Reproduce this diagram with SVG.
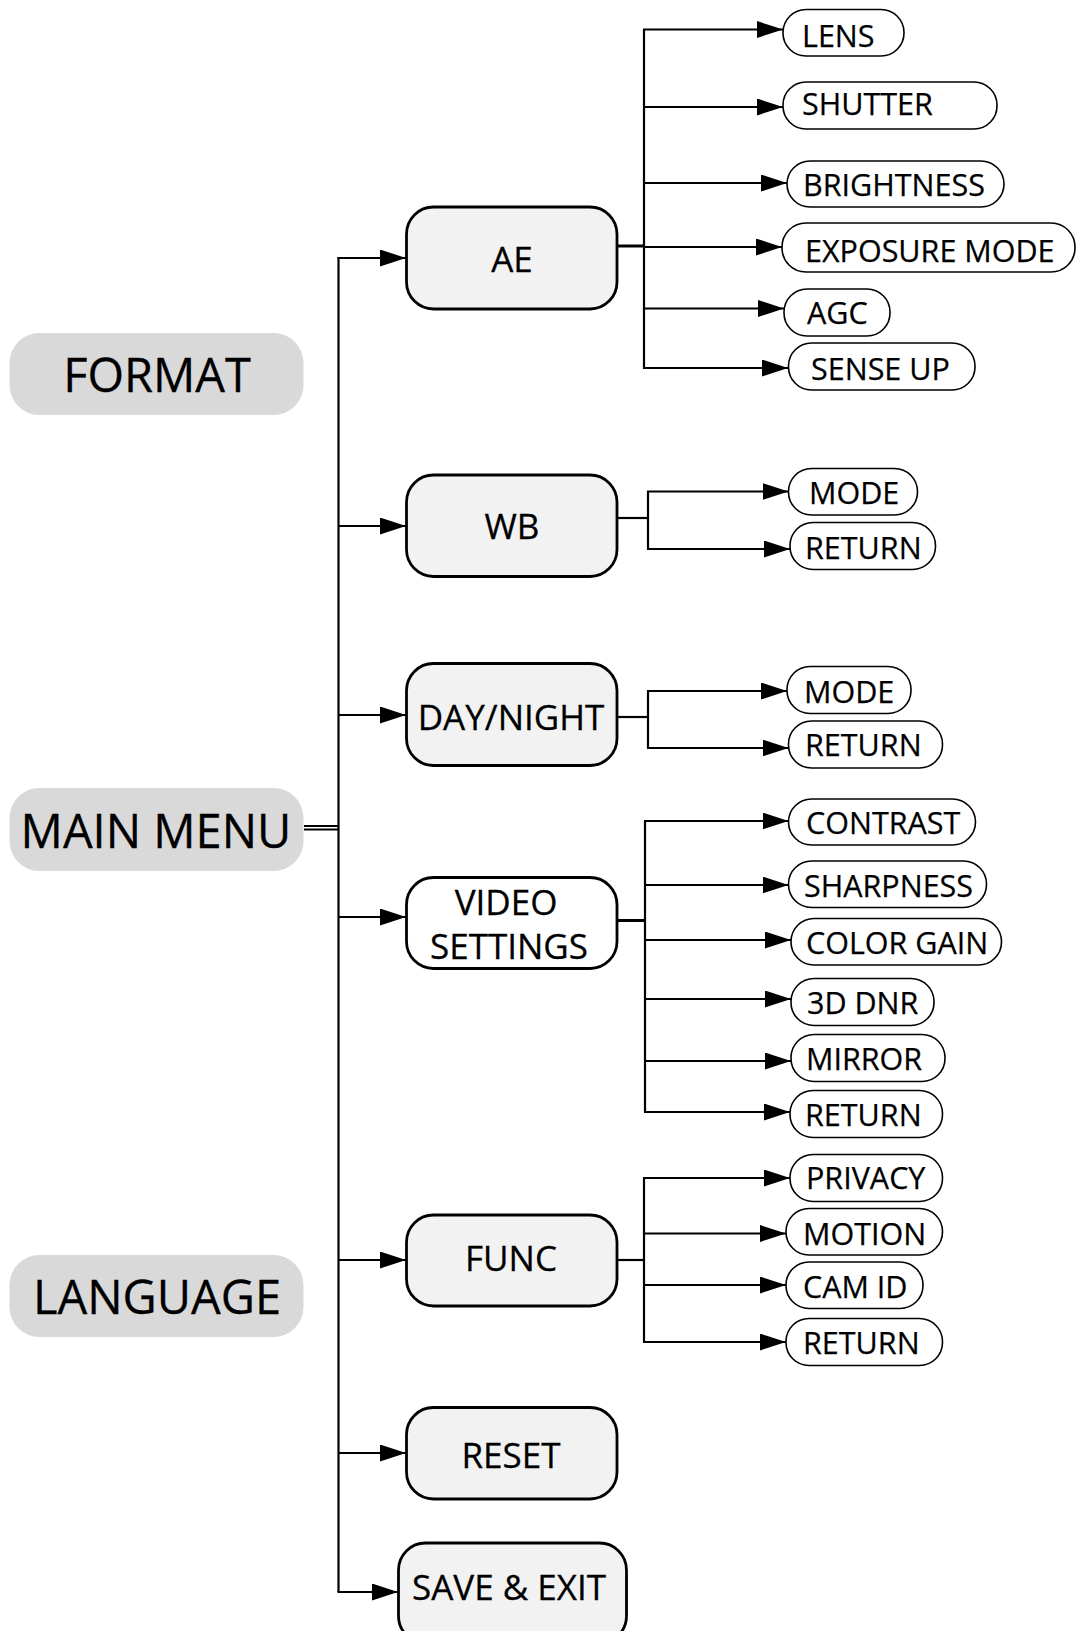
<svg xmlns="http://www.w3.org/2000/svg" width="1077" height="1631" viewBox="0 0 1077 1631">
<defs>
<marker id="ah" markerUnits="userSpaceOnUse" markerWidth="26" markerHeight="17" refX="26" refY="8.5" orient="auto">
<path d="M0,0 L26,8.5 L0,17 Z" fill="#000"/>
</marker>
<style>
.top{fill:#d9d9d9;stroke:none}
.mid{fill:#f2f2f2;stroke:#000;stroke-width:2.8}
.midw{fill:#fff;stroke:#000;stroke-width:2.8}
.leaf{fill:#fff;stroke:#000;stroke-width:1.6}
.tt{font-family:"Open Sans","Liberation Sans",sans-serif;font-size:47px;fill:#000;text-anchor:middle;stroke:#000;stroke-width:0.3}
.mt{font-family:"Open Sans","Liberation Sans",sans-serif;font-size:35px;fill:#000;text-anchor:middle;stroke:#000;stroke-width:0.3}
.lt{font-family:"Open Sans","Liberation Sans",sans-serif;font-size:30.5px;fill:#000;stroke:#000;stroke-width:0.25}
.c{fill:none;stroke:#000;stroke-width:2.2}
.a{fill:none;stroke:#000;stroke-width:2.2;marker-end:url(#ah)}
</style>
</defs>

<g id="connectors">
<line class="c" x1="304" y1="826" x2="339" y2="826" style="stroke-width:2.2"/>
<line class="c" x1="304" y1="829.5" x2="339" y2="829.5" style="stroke-width:2.2"/>
<line class="c" x1="338.5" y1="257" x2="338.5" y2="1592"/>
<line class="a" x1="337.5" y1="258" x2="406" y2="258"/>
<line class="a" x1="338.5" y1="526" x2="406" y2="526"/>
<line class="a" x1="338.5" y1="715" x2="406" y2="715"/>
<line class="a" x1="338.5" y1="917" x2="406" y2="917"/>
<line class="a" x1="338.5" y1="1260" x2="406" y2="1260"/>
<line class="a" x1="338.5" y1="1453" x2="406" y2="1453"/>
<line class="a" x1="337.5" y1="1592" x2="398" y2="1592"/>

<line class="c" x1="617" y1="246" x2="644" y2="246" style="stroke-width:3"/>
<line class="c" x1="644" y1="29" x2="644" y2="368.5"/>
<line class="a" x1="643" y1="29.5" x2="783" y2="29.5"/>
<line class="a" x1="643" y1="107" x2="783" y2="107"/>
<line class="a" x1="643" y1="183" x2="787" y2="183"/>
<line class="a" x1="643" y1="247" x2="782" y2="247"/>
<line class="a" x1="643" y1="308.5" x2="784" y2="308.5"/>
<line class="a" x1="643" y1="368" x2="788" y2="368"/>

<line class="c" x1="617" y1="518" x2="648" y2="518"/>
<line class="c" x1="648" y1="491" x2="648" y2="549.5"/>
<line class="a" x1="647" y1="491.5" x2="788.5" y2="491.5"/>
<line class="a" x1="647" y1="549" x2="790" y2="549"/>

<line class="c" x1="617" y1="717" x2="648" y2="717"/>
<line class="c" x1="648" y1="690.5" x2="648" y2="748.5"/>
<line class="a" x1="647" y1="691" x2="787" y2="691"/>
<line class="a" x1="647" y1="748" x2="788.5" y2="748"/>

<line class="c" x1="617" y1="920.5" x2="645" y2="920.5" style="stroke-width:3"/>
<line class="c" x1="645" y1="820.5" x2="645" y2="1112.5"/>
<line class="a" x1="644" y1="821" x2="788.5" y2="821"/>
<line class="a" x1="644" y1="885" x2="788.5" y2="885"/>
<line class="a" x1="644" y1="940" x2="791" y2="940"/>
<line class="a" x1="644" y1="999" x2="791" y2="999"/>
<line class="a" x1="644" y1="1061" x2="791" y2="1061"/>
<line class="a" x1="644" y1="1112" x2="790" y2="1112"/>

<line class="c" x1="617" y1="1260" x2="644" y2="1260"/>
<line class="c" x1="644" y1="1177.5" x2="644" y2="1342.5"/>
<line class="a" x1="643" y1="1178" x2="790" y2="1178"/>
<line class="a" x1="643" y1="1233.5" x2="786" y2="1233.5"/>
<line class="a" x1="643" y1="1285" x2="786" y2="1285"/>
<line class="a" x1="643" y1="1342" x2="786" y2="1342"/>
</g>

<g id="format"><rect class="top" x="9.5" y="333" width="294" height="82" rx="30"/><text class="tt" x="157" y="391.5">FORMAT</text></g>
<g id="main-menu"><rect class="top" x="9.5" y="788" width="294" height="83" rx="30"/><text class="tt" x="156" y="847.5">MAIN MENU</text></g>
<g id="language"><rect class="top" x="9.5" y="1255" width="294" height="82" rx="30"/><text class="tt" x="157" y="1314">LANGUAGE</text></g>

<g id="ae"><rect class="mid" x="406.5" y="207" width="210.5" height="102" rx="27"/><text class="mt" x="512" y="271.5">AE</text></g>
<g id="wb"><rect class="mid" x="406.5" y="475" width="210.5" height="101.5" rx="27"/><text class="mt" x="512" y="538.5">WB</text></g>
<g id="day-night"><rect class="mid" x="406.5" y="663.5" width="210.5" height="102" rx="27"/><text class="mt" x="511" y="729.5">DAY/NIGHT</text></g>
<g id="video-settings"><rect class="midw" x="406.5" y="877.5" width="210.5" height="91" rx="27"/><text class="mt" x="506" y="915">VIDEO</text><text class="mt" x="509" y="958.5">SETTINGS</text></g>
<g id="func"><rect class="mid" x="406.5" y="1215" width="210.5" height="91" rx="27"/><text class="mt" x="511" y="1270.5">FUNC</text></g>
<g id="reset"><rect class="mid" x="406.5" y="1407.5" width="210.5" height="91.5" rx="27"/><text class="mt" x="511" y="1467.5">RESET</text></g>
<g id="save-exit"><rect class="mid" x="398.5" y="1543" width="228" height="100" rx="27"/><text class="mt" x="509" y="1600">SAVE &amp; EXIT</text></g>

<g id="lens"><rect class="leaf" x="783" y="9.5" width="121" height="46.5" rx="23"/><text class="lt" x="802" y="46.5">LENS</text></g>
<g id="shutter"><rect class="leaf" x="783" y="82" width="214" height="47" rx="23"/><text class="lt" x="802" y="115">SHUTTER</text></g>
<g id="brightness"><rect class="leaf" x="787" y="161" width="217" height="46" rx="23"/><text class="lt" x="803" y="195.5">BRIGHTNESS</text></g>
<g id="exposure-mode"><rect class="leaf" x="782" y="223" width="293" height="49" rx="24"/><text class="lt" x="805" y="261.5">EXPOSURE MODE</text></g>
<g id="agc"><rect class="leaf" x="784" y="289" width="106" height="47" rx="23"/><text class="lt" x="807" y="323.5">AGC</text></g>
<g id="sense-up"><rect class="leaf" x="788.5" y="343" width="186.5" height="47" rx="23"/><text class="lt" x="811" y="380">SENSE UP</text></g>

<g id="wb-mode"><rect class="leaf" x="788.5" y="468.5" width="129" height="46.5" rx="23"/><text class="lt" x="809" y="504">MODE</text></g>
<g id="wb-return"><rect class="leaf" x="790" y="522.5" width="145.5" height="47" rx="23"/><text class="lt" x="805" y="558.5">RETURN</text></g>

<g id="dn-mode"><rect class="leaf" x="787" y="666.5" width="124" height="47" rx="23"/><text class="lt" x="804" y="702.5">MODE</text></g>
<g id="dn-return"><rect class="leaf" x="788.5" y="721" width="154" height="47" rx="23"/><text class="lt" x="805" y="756">RETURN</text></g>

<g id="contrast"><rect class="leaf" x="788.5" y="799" width="187" height="46" rx="23"/><text class="lt" x="806" y="833.5">CONTRAST</text></g>
<g id="sharpness"><rect class="leaf" x="788.5" y="861" width="198" height="46.5" rx="23"/><text class="lt" x="804" y="896.5">SHARPNESS</text></g>
<g id="color-gain"><rect class="leaf" x="791" y="918.5" width="210.5" height="46.5" rx="23"/><text class="lt" x="806" y="954">COLOR GAIN</text></g>
<g id="3d-dnr"><rect class="leaf" x="791" y="978.5" width="143" height="47" rx="23"/><text class="lt" x="807" y="1013.5">3D DNR</text></g>
<g id="mirror"><rect class="leaf" x="791" y="1034.5" width="154" height="47" rx="23"/><text class="lt" x="806" y="1070">MIRROR</text></g>
<g id="vs-return"><rect class="leaf" x="790" y="1090.5" width="152.5" height="47" rx="23"/><text class="lt" x="805" y="1126">RETURN</text></g>

<g id="privacy"><rect class="leaf" x="790" y="1154.5" width="152.5" height="47" rx="23"/><text class="lt" x="806" y="1188.5">PRIVACY</text></g>
<g id="motion"><rect class="leaf" x="786" y="1208.5" width="156.5" height="46.5" rx="23"/><text class="lt" x="803" y="1245">MOTION</text></g>
<g id="cam-id"><rect class="leaf" x="786" y="1262" width="137" height="46.5" rx="23"/><text class="lt" x="803" y="1297.5">CAM ID</text></g>
<g id="func-return"><rect class="leaf" x="786" y="1318.5" width="156.5" height="47" rx="23"/><text class="lt" x="803" y="1354">RETURN</text></g>
</svg>
